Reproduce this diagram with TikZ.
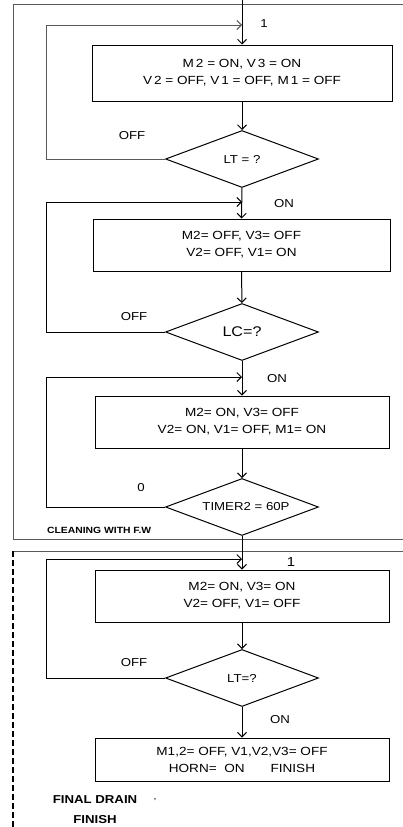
\documentclass[tikz,border=0pt]{standalone}
\usepackage{fontspec}
\setmainfont{Liberation Sans}[FakeStretch=1.15]
\usetikzlibrary{arrows.meta,shapes.geometric}
\tikzset{
  box/.style={draw, rectangle, line width=1pt, align=center, font=\fontsize{11.8}{17}\selectfont, inner sep=2pt},
  dec/.style={draw, diamond, line width=1pt, aspect=2.7, inner sep=0pt, minimum width=153pt, minimum height=57pt, font=\fontsize{11.5}{13}\selectfont},
  arr/.style={-{Straight Barb[length=4.5pt,width=9pt]}, line width=1pt},
  lbl/.style={font=\fontsize{11.5}{13}\selectfont, inner sep=0pt},
  tag/.style={font=\bfseries\fontsize{9}{11}\selectfont, inner sep=0pt, align=center},
  frm/.style={draw=black!65, line width=0.9pt},
  dfrm/.style={draw=black, line width=1.4pt, dash pattern=on 6pt off 3pt},
}

\begin{document}
\begin{tikzpicture}[x=1pt, y=-1pt]
\useasboundingbox (0,0) rectangle (402,827);
% frames
\draw[frm] (13,4) rectangle (412,539);
\draw[frm] (13,551) -- (412,551);
\draw[dfrm] (13,551) -- (13,830);
% cleaning with fresh water
\coordinate (top) at (242,0);
\node[box, minimum width=300pt, minimum height=56pt] (b1) at (242,73) {M\,2 = ON, V\,3 = ON\\V\,2 = OFF, V\,1 = OFF, M\,1 = OFF};
\node[dec] (d1) at (242,159) {LT = ?};
\node[box, minimum width=297pt, minimum height=52pt] (b2) at (241.5,245) {M2= OFF, V3= OFF\\V2= OFF, V1= ON};
\node[dec, font=\fontsize{14}{15}\selectfont] (d2) at (242,332) {LC=?};
\node[box, minimum width=294pt, minimum height=52pt] (b3) at (242,422) {M2= ON, V3= OFF\\V2= ON, V1= OFF, M1= ON};
\node[dec] (d3) at (242,507) {\hspace*{8pt}TIMER2 = 60P};
% final drain
\node[box, minimum width=294pt, minimum height=52pt] (b4) at (242,596) {M2= ON, V3= ON\\V2= OFF, V1= OFF};
\node[dec] (d4) at (242,678) {LT=?};
\node[box, minimum width=294pt, minimum height=43pt] (b5) at (242,759.5) {M1,2= OFF, V1,V2,V3= OFF\\HORN=\ \ ON\hspace{2.2em}FINISH};
% junctions of the loops
\coordinate (j1) at (242,25);
\coordinate (j2) at (242,202);
\coordinate (j3) at (242,377);
\coordinate (j4) at (242,559);
% main flow
\draw[arr] (top) -- (b1);
\draw[arr] (b1) -- (d1);
\draw[arr] (d1) -- (b2);
\draw[arr] (b2) -- (d2);
\draw[arr] (d2) -- (b3);
\draw[arr] (b3) -- (d3);
\draw[arr] (d3) -- (b4);
\draw[arr] (b4) -- (d4);
\draw[arr] (d4) -- (b5);
% loops back
\draw[arr, draw=black!65] (d1.west) -- ++(-119,0) |- (j1);
\draw[arr] (d2.west) -- ++(-119,0) |- (j2);
\draw[arr] (d3.west) -- ++(-119,0) |- (j3);
\draw[arr] (d4.west) -- ++(-119,0) |- (j4);
% labels
\node[lbl] (n1) at (264,24) {1};
\node[lbl] (off1) at (132,136) {OFF};
\node[lbl] (on1) at (284,204) {ON};
\node[lbl] (off2) at (134,317) {OFF};
\node[lbl] (on2) at (277,379) {ON};
\node[lbl] (z3) at (141,488) {0};
\node[tag, anchor=west] (cl) at (47,530) {CLEANING WITH F.W};
\node[lbl, font=\fontsize{13}{14}\selectfont] (n4) at (291,562) {1};
\node[lbl] (off4) at (134,663) {OFF};
\node[lbl] (on4) at (280,720) {ON};
\node[tag, font=\bfseries\fontsize{11.5}{20}\selectfont] (fd) at (95,810) {FINAL DRAIN\\FINISH};
\node[lbl, font=\fontsize{9}{9}\selectfont] (cm) at (155,800) {,};
\end{tikzpicture}
\end{document}
